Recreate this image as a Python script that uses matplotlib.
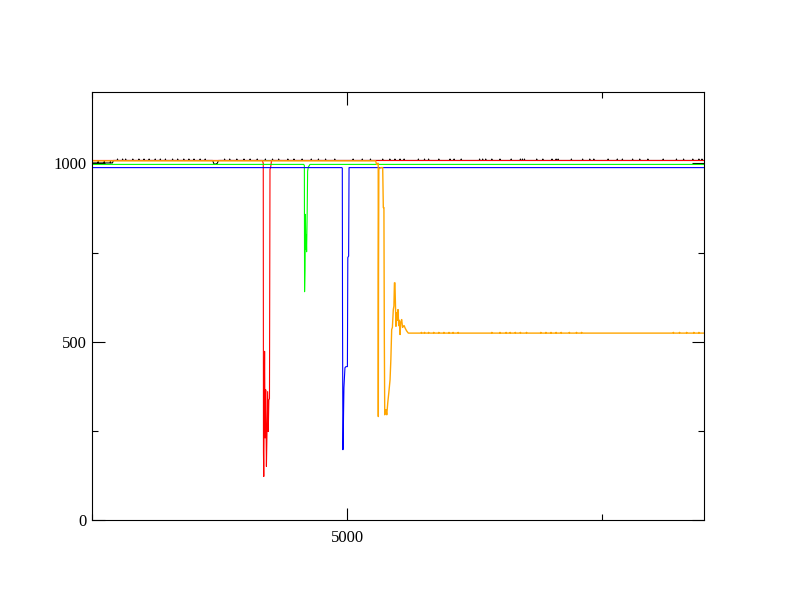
import matplotlib
matplotlib.use("Agg")
import matplotlib.pyplot as plt
import numpy as np
from matplotlib.ticker import MultipleLocator

# --- data ---
black_x = [2500, 2700, 2710, 3683, 3695, 3705, 3728, 3740, 8500]
black_y = [1001, 1001, 1008, 1008, 999, 997, 1000, 1008, 1008]
black_spikes = [2560, 2620, 2680, 2750, 2800, 2830, 2900, 2960, 3010, 3060, 3120,
                3170, 3220, 3290, 3340, 3400, 3450, 3500, 3560, 3610, 3800, 3850,
                3920, 3990, 4050, 4120, 4200, 4270, 4330, 4420, 4480, 4560, 4650,
                4720, 4790, 4880, 5060, 5150, 5230, 5350, 5420, 5470, 5520, 5560,
                5700, 5760, 5800, 5900, 6010, 6050, 6120, 6300, 6330, 6360, 6420,
                6500, 6610, 6700, 6720, 6740, 6860, 6920, 7010, 7050, 7070, 7200,
                7310, 7380, 7420, 7560, 7650, 7700, 7800, 7870, 7950, 8100, 8230,
                8300, 8390, 8450, 8480]

red_x = [2500, 4170, 4179, 4181, 4184, 4188, 4192, 4197, 4203, 4210, 4216,
         4222, 4228, 4234, 4240, 4245, 4252, 4260, 8500]
red_y = [1008, 1008, 1000, 190, 122, 300, 473, 230, 365, 150, 250,
         360, 248, 337, 340, 983, 990, 1008, 1008]

green_x = [2500, 4575, 4582, 4584, 4588, 4592, 4596, 4600, 4604, 4610, 4614,
           4620, 4637, 8500]
green_y = [997, 997, 994, 640, 700, 857, 760, 800, 752, 870, 978,
           989, 997, 997]

blue_x = [2500, 4950, 4954, 4956, 4960, 4963, 4966, 4970, 4975, 4980, 4990,
          5004, 5008, 5016, 5020, 8500]
blue_y = [988, 988, 986, 595, 197, 220, 295, 371, 400, 427, 430,
          430, 736, 740, 988, 988]

orange_x = [2500, 5280, 5291, 5300, 5306, 5307, 5309, 5312, 5316, 5330, 5350,
            5356, 5362, 5366, 5370, 5375, 5382, 5390, 5400, 5410, 5422, 5430,
            5438, 5445, 5454, 5460, 5465, 5470, 5475, 5480, 5487, 5493, 5500,
            5507, 5513, 5520, 5527, 5536, 5545, 5552, 5560, 5570, 5585, 5601,
            5618, 8500]
orange_y = [1007, 1007, 997, 1000, 1000, 290, 700, 983, 985, 988, 988,
            876, 876, 506, 295, 300, 309, 295, 330, 357, 393, 450,
            534, 540, 590, 600, 665, 665, 600, 543, 581, 560, 590,
            545, 560, 520, 555, 562, 540, 543, 545, 538, 530, 524,
            524, 524]
orange_spikes = [5730, 5760, 5800, 5850, 5900, 5950, 6000, 6040, 6090, 6420,
                 6500, 6560, 6600, 6650, 6700, 6760, 6900, 6950, 7000, 7050,
                 7100, 7180, 7250, 7300, 8200, 8260, 8330, 8400, 8450]


def add_spikes(xs, ys, spikes, height):
    x = list(xs)
    y = list(ys)
    for s in spikes:
        base = float(np.interp(s, x, y))
        i = int(np.searchsorted(x, s))
        x[i:i] = [s - 3, s, s + 3]
        y[i:i] = [base, base + height, base]
    return x, y


plt.rcParams['font.family'] = ['Liberation Serif', 'DejaVu Serif']

fig = plt.figure(figsize=(7.92, 6.12), dpi=100)
ax = fig.add_axes([92 / 792, 92 / 612, 612 / 792, 428 / 612])

bx, by = add_spikes(black_x, black_y, black_spikes, 4)
ox, oy = add_spikes(orange_x, orange_y, orange_spikes, 2)

ax.plot(bx, by, color='black', lw=0.8)
ax.plot(red_x, red_y, color='#ff0000', lw=0.8)
ax.plot(green_x, green_y, color='#00ff00', lw=0.8)
ax.plot(blue_x, blue_y, color='#0000ff', lw=0.8)
ax.plot(ox, oy, color='#ffa500', lw=1.0)

ax.set_xlim(2500, 8500)
ax.set_ylim(0, 1200)
ax.xaxis.set_major_locator(MultipleLocator(5000))
ax.xaxis.set_minor_locator(MultipleLocator(2500))
ax.yaxis.set_major_locator(MultipleLocator(500))
ax.yaxis.set_minor_locator(MultipleLocator(250))

ax.tick_params(which='both', direction='in', top=True, right=True,
               width=0.8, labelsize=12)
ax.tick_params(which='major', length=9)
ax.tick_params(which='minor', length=4.5)
ax.tick_params(axis='x', pad=7)
ax.tick_params(axis='y', pad=4)
for sp in ax.spines.values():
    sp.set_linewidth(0.8)

fig.savefig('out.png', dpi=100)
